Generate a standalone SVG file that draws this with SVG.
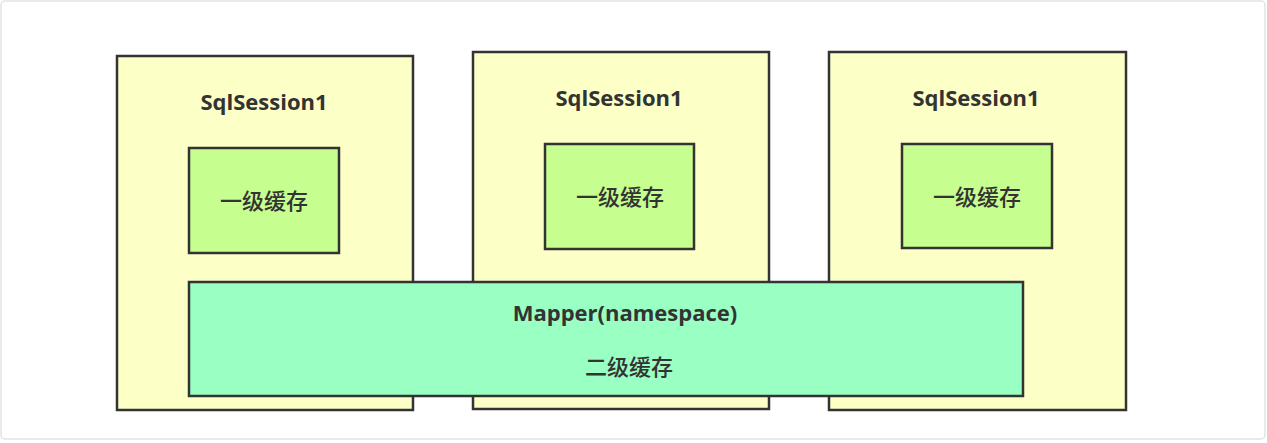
<svg xmlns="http://www.w3.org/2000/svg" width="1267" height="443" viewBox="0 0 1267 443">
<style>
.frame{fill:#ffffff;stroke:#e3e3e3;stroke-width:1.5}
.session{fill:#fcffc6;stroke:#333333;stroke-width:2.5}
.l1{fill:#c6ff8f;stroke:#333333;stroke-width:2.5}
.mapper{fill:#99ffc3;stroke:#333333;stroke-width:2.5}
.title{font-family:"Open Sans","Noto Sans",sans-serif;font-weight:bold;font-size:22px;fill:#333333;text-anchor:middle}
.cn{font-family:"Noto Sans CJK SC",sans-serif;font-weight:500;font-size:22px;fill:#333333;text-anchor:middle}
</style>
<rect class="frame" x="1" y="1" width="1264" height="438" rx="4"/>
<g id="session1">
<rect class="session" x="117" y="56" width="296" height="354"/>
<text class="title" x="264" y="110">SqlSession1</text>
</g>
<g id="session2">
<rect class="session" x="473" y="52" width="296" height="357"/>
<text class="title" x="619" y="106">SqlSession1</text>
</g>
<g id="session3">
<rect class="session" x="829" y="52" width="297" height="358"/>
<text class="title" x="976" y="106">SqlSession1</text>
</g>
<g id="cache1">
<rect class="l1" x="189" y="148" width="150" height="105"/>
<text class="cn" x="264" y="209">一级缓存</text>
</g>
<g id="cache2">
<rect class="l1" x="545" y="144" width="149" height="105"/>
<text class="cn" x="620" y="205">一级缓存</text>
</g>
<g id="cache3">
<rect class="l1" x="902" y="144" width="150" height="104"/>
<text class="cn" x="977" y="205">一级缓存</text>
</g>
<g id="mapper">
<rect class="mapper" x="189" y="282" width="834" height="114"/>
<text class="title" x="625" y="321">Mapper(namespace)</text>
<text class="cn" x="629" y="375">二级缓存</text>
</g>
<g id="connectors"></g>
</svg>
